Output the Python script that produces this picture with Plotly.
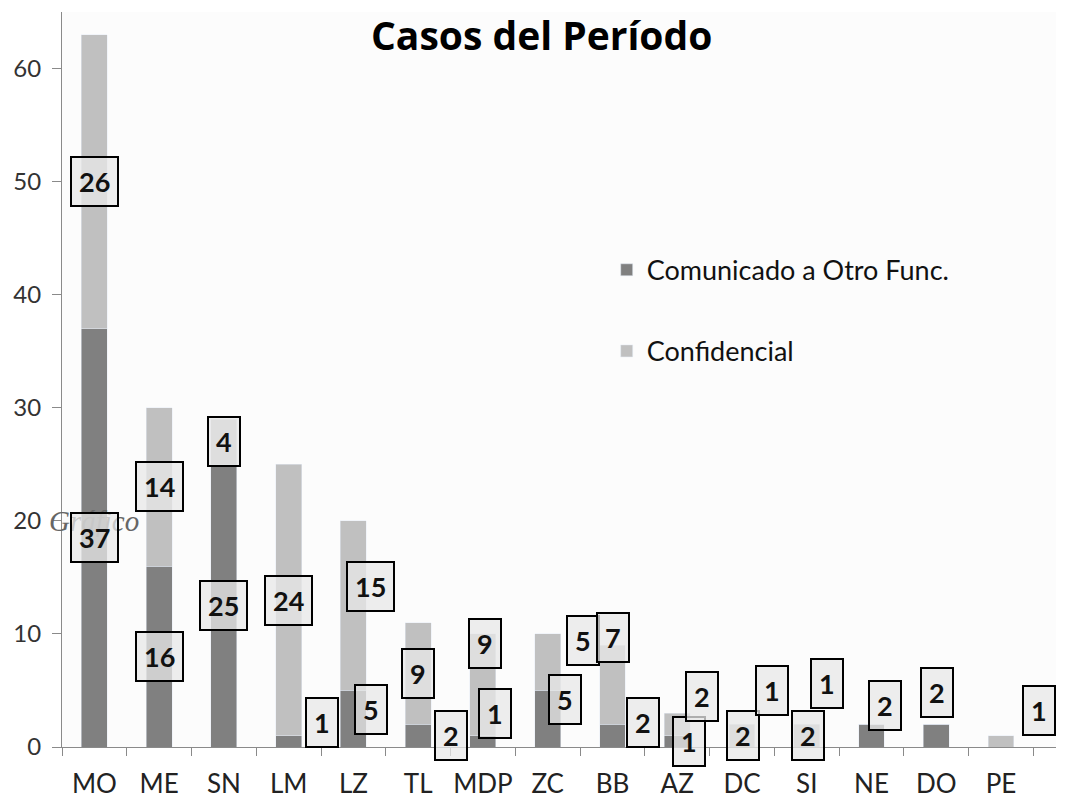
import plotly.graph_objects as go

# ---------------- data ----------------
categorias = ["MO", "ME", "SN", "LM", "LZ", "TL", "MDP", "ZC", "BB", "AZ", "DC", "SI", "NE", "DO", "PE"]
comunicado = [37, 16, 25, 1, 5, 2, 1, 5, 2, 1, 0, 0, 2, 2, 0]
confidencial = [26, 14, 4, 24, 15, 9, 9, 5, 7, 2, 2, 2, 0, 0, 1]
serie_nombres = ["Comunicado a Otro Func.", "Confidencial"]
titulo = "Casos del Período"
y_ticks = [0, 10, 20, 30, 40, 50, 60]

# loose data labels sitting above the DC and SI bars
etiquetas_sueltas_cat = ["DC", "SI"]
etiquetas_sueltas_txt = ["1", "1"]

# ---------------- label placement (pixel offsets, style only) ----------------
desplaz_com = {"LM": (33, 19), "LZ": (18, 9), "TL": (33, 0), "MDP": (12, 28), "ZC": (17, 19),
               "BB": (31, 13), "AZ": (12, 0), "NE": (14, 30), "DO": (1, 43)}
desplaz_conf = {"LZ": (17, 19), "MDP": (2, 41), "ZC": (35, 22), "BB": (1, 47), "AZ": (25, 28),
                "DC": (1, 0), "SI": (1, 0), "PE": (38, 31)}
desplaz_sueltas = [(30, 34), (20, 41)]

C_DARK = "#808080"
C_LIGHT = "#c0c0c0"
FONT = "Lato"

fig = go.Figure()
fig.add_trace(go.Bar(x=categorias, y=comunicado, name=serie_nombres[0], marker_color=C_DARK,
                     legendgroup="a"))
fig.add_trace(go.Bar(x=categorias, y=confidencial, name=serie_nombres[1], marker_color=C_LIGHT,
                     legendgroup="b"))

annotations = []
# faint leftover text behind the first bar
annotations.append(dict(text="Gráfico", xref="paper", yref="y", x=-0.0146, y=20,
                        xanchor="left", yanchor="middle", showarrow=False,
                        font=dict(family="Liberation Serif", size=29, color="#666666", style="italic")))

box = dict(showarrow=False, bordercolor="#000000", borderwidth=2, borderpad=7,
           bgcolor="rgba(232,232,232,0.75)", xanchor="center", yanchor="middle",
           font=dict(family=FONT, size=27, color="#111111", weight="bold"))


def add_label(cat, yval, text, off):
    dx, dy = off
    annotations.append(dict(x=cat, y=yval, xref="x", yref="y", text=text,
                            xshift=dx, yshift=dy, **box))


for i, c in enumerate(categorias):
    v = comunicado[i]
    if v:
        add_label(c, v / 2, str(v), desplaz_com.get(c, (0, 0)))
for i, c in enumerate(categorias):
    v = confidencial[i]
    if v:
        add_label(c, comunicado[i] + v / 2, str(v), desplaz_conf.get(c, (0, 0)))
for c, t, off in zip(etiquetas_sueltas_cat, etiquetas_sueltas_txt, desplaz_sueltas):
    i = categorias.index(c)
    add_label(c, comunicado[i] + confidencial[i], t, off)

annotations.append(dict(text=titulo, xref="paper", yref="paper", x=0.482, y=0.969,
                        xanchor="center", yanchor="middle", showarrow=False,
                        font=dict(family="Open Sans", size=39, color="#000000", weight="bold")))

# the page body adds an 8px offset, so margins are compensated accordingly
fig.update_layout(
    annotations=annotations,
    width=1068, height=799,
    margin=dict(l=54, r=20, t=4, b=60, autoexpand=False),
    barmode="stack", bargap=0.6,
    paper_bgcolor="#ffffff", plot_bgcolor="#fcfcfc",
    font=dict(family=FONT, color="#333333"),
    showlegend=True,
    legend=dict(x=0.548, y=0.682, xanchor="left", yanchor="top", traceorder="grouped",
                tracegroupgap=43, bgcolor="rgba(0,0,0,0)",
                font=dict(family=FONT, size=27, color="#111111")),
    xaxis=dict(showline=True, linecolor="#8a8a8a", linewidth=1, ticks="outside", ticklen=8,
               tickcolor="#8a8a8a", tickson="boundaries", showgrid=False, tickangle=0,
               automargin=False, ticklabelstandoff=14,
               tickfont=dict(family=FONT, size=26, color="#222222")),
    yaxis=dict(range=[0, 65], tickvals=y_ticks, showline=True, linecolor="#8a8a8a", linewidth=1,
               ticks="outside", ticklen=9, tickcolor="#8a8a8a", showgrid=False, zeroline=False,
               automargin=False, ticklabelstandoff=6,
               tickfont=dict(family=FONT, size=24, color="#333333")),
)

fig.write_html("out.html")
